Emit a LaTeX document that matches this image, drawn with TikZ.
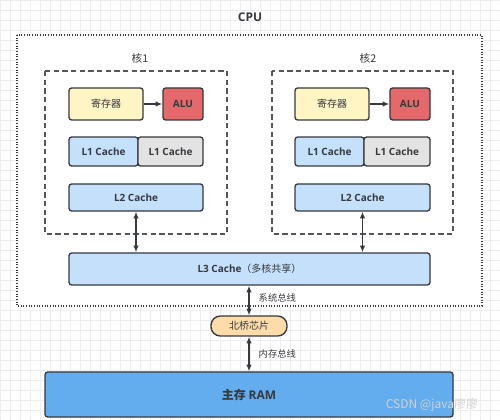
\documentclass[tikz,border=0pt]{standalone}
\usepackage{fontspec}
\setmainfont{Open Sans}
\newfontfamily\cjk{Noto Sans CJK SC}
\usetikzlibrary{arrows.meta}
\pgfdeclarelayer{bg}
\pgfsetlayers{bg,main}
\definecolor{lineDark}{HTML}{36393D}
\definecolor{regYellow}{HTML}{FFF4C3}
\definecolor{aluRed}{HTML}{E5696A}
\definecolor{cacheBlue}{HTML}{C4E0FB}
\definecolor{cacheGray}{HTML}{E3E3E3}
\definecolor{bridgeOrange}{HTML}{FDDCAA}
\definecolor{ramBlue}{HTML}{63ACEE}
\definecolor{gridGray}{HTML}{EDEDED}
\tikzset{
  box/.style={draw=lineDark, line width=1pt, rounded corners=2pt, inner sep=0pt,
    font=\bfseries\fontsize{7.5}{9}\selectfont, text=lineDark},
  corebox/.style={draw=lineDark!85, line width=1pt, dash pattern=on 4pt off 2.5pt},
  bus/.style={draw=lineDark, line width=0.9pt, {Latex[length=5pt,width=4pt]}-{Latex[length=5pt,width=4pt]}},
  buslabel/.style={font=\cjk\fontsize{7}{8}\selectfont, text=lineDark, anchor=west}
}
\begin{document}
\begin{tikzpicture}[x=0.75pt, y=-0.75pt]
        \useasboundingbox (0,0) rectangle (500,420);
        \fill[white] (0,0) rectangle (500,420);
        \foreach \gx in {0,10,...,500}
                \draw[gridGray, line width=0.3pt] (\gx,0) -- (\gx,420);
        \foreach \gy in {0,10,...,420}
                \draw[gridGray, line width=0.3pt] (0,\gy) -- (500,\gy);
        % CPU
        \node (cputitle) [font=\bfseries\fontsize{9}{11}\selectfont, text=lineDark] at (250,17) {CPU};
        \draw[fill=white, draw=lineDark, line width=0.9pt, dash pattern=on 0.8pt off 1.2pt] (17,35) rectangle (482,306);
        % core 1
        \node (core1title) [font=\cjk\fontsize{8}{10}\selectfont, text=lineDark] at (140,58) {核1};
        \draw[corebox] (45,71) rectangle (227,234);
        \node (reg1) [box, fill=regYellow, minimum width=55.5pt, minimum height=24pt] at (106,104) {\cjk\mdseries 寄存器};
        \node (alu1) [box, fill=aluRed, minimum width=30pt, minimum height=24pt] at (183,104) {ALU};
        \node (l1a) [box, fill=cacheBlue, minimum width=51.75pt, minimum height=21.75pt] at (103.5,151.5) {L1 Cache};
        \node (l1b) [box, fill=cacheGray, minimum width=48.75pt, minimum height=21.75pt] at (170.5,151.5) {L1 Cache};
        \node (l2a) [box, fill=cacheBlue, minimum width=100.5pt, minimum height=20.25pt] at (136,197.5) {L2 Cache};
        % core 2
        \node (core2title) [font=\cjk\fontsize{8}{10}\selectfont, text=lineDark] at (368,58) {核2};
        \draw[corebox] (272,71) rectangle (453,234);
        \node (reg2) [box, fill=regYellow, minimum width=55.5pt, minimum height=24pt] at (332,104) {\cjk\mdseries 寄存器};
        \node (alu2) [box, fill=aluRed, minimum width=30pt, minimum height=24pt] at (410,104) {ALU};
        \node (l1c) [box, fill=cacheBlue, minimum width=51.75pt, minimum height=21.75pt] at (329.5,151.5) {L1 Cache};
        \node (l1d) [box, fill=cacheGray, minimum width=49.5pt, minimum height=21.75pt] at (397,151.5) {L1 Cache};
        \node (l2b) [box, fill=cacheBlue, minimum width=101.25pt, minimum height=20.25pt] at (362.5,197.5) {L2 Cache};
        % shared parts
        \node (l3) [box, fill=cacheBlue, minimum width=270.75pt, minimum height=24pt] at (249.5,269) {L3 Cache\cjk\mdseries（多核共享）};
        \node (bridge) [box, fill=bridgeOrange, rounded corners=7pt, minimum width=57pt, minimum height=15pt] at (249,326) {\cjk\mdseries 北桥芯片};
        \node (ram) [box, fill=ramBlue, minimum width=306pt, minimum height=33.75pt, font=\bfseries\fontsize{9}{11}\selectfont] at (249,394.5) {\cjk\bfseries 主存 \rmfamily\bfseries RAM};
        \node (sysbus) [buslabel] at (254,298) {系统总线};
        \node (membus) [buslabel] at (254,354) {内存总线};
        \node (mark) [font=\cjk\fontsize{9}{11}\selectfont, text=white!82!black] at (432,405) {CSDN @java廖廖};
        \draw (reg1) edge [bus, {}-{Latex[length=5pt,width=4pt]}] (alu1);
        \draw (reg2) edge [bus, {}-{Latex[length=5pt,width=4pt]}] (alu2);
        \draw (l2a.south) edge [bus] (l2a.south |- l3.north);
        \draw (l2b.south) edge [bus] (l2b.south |- l3.north);
        \draw (l3.south -| bridge.north) edge [bus] (bridge.north);
        \draw (bridge.south) edge [bus] (bridge.south |- ram.north);
\end{tikzpicture}
\end{document}
